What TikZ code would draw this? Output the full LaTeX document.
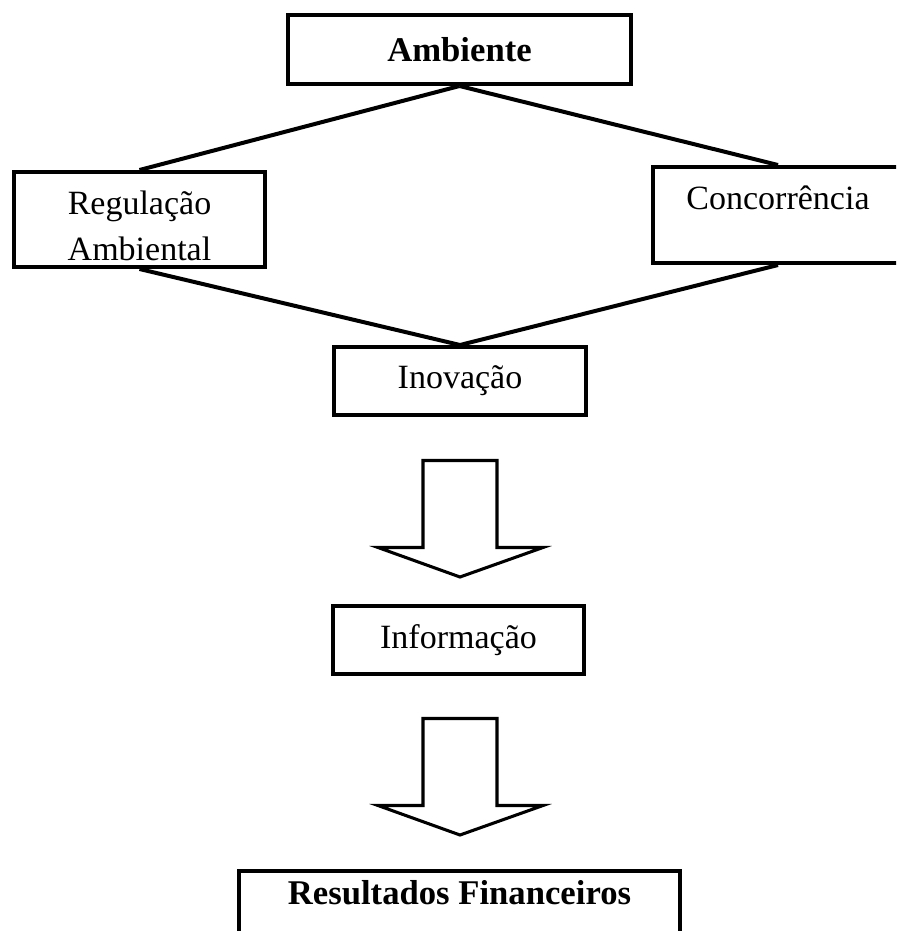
\documentclass[tikz,border=0pt]{standalone}
\usepackage{fontspec}
\setmainfont{Liberation Serif}

\tikzset{
  box/.style={draw, line width=3pt, inner sep=0pt, font=\fontsize{25.5}{34.5}\selectfont},
  bold/.style={font=\fontsize{26}{34.5}\selectfont\bfseries},
  link/.style={line width=3pt},
  bigarrow/.style={line width=2.3pt, line join=miter}
}

\begin{document}
\begin{tikzpicture}[x=0.75pt, y=-0.75pt]
            \clip (0,0) rectangle (896,931);
            \node[box, bold, minimum width=257.25pt, minimum height=51.75pt] (amb) at (459.5, 49.5) {Ambiente};
            \node[box, anchor=north, align=center, minimum width=188.25pt, text height=66pt, text depth=5.25pt] (reg) at (139.5, 170) {Regulação\\Ambiental};
            \node[box, anchor=north, minimum width=187.5pt, text height=31.5pt, text depth=40.5pt] (conc) at (778, 165) {Concorrência};
            \node[box, minimum width=189pt, minimum height=51pt] (inov) at (460, 381) {Inovação};
            \node[box, minimum width=188.25pt, minimum height=51pt] (info) at (458.5, 640) {Informação};
            \node[box, bold, anchor=north, minimum width=330.75pt, text height=24.75pt, text depth=60pt] (res) at (459.5, 869) {Resultados Financeiros};
            \draw[link] (amb.south) to (reg.north);
            \draw[link] (amb.south) to (conc.north);
            \draw[link] (reg.south) to (inov.north);
            \draw[link] (conc.south) to (inov.north);
            % hollow arrows
            \foreach \y in {460.5, 718.5} {
                \draw[bigarrow] (423,\y) -- (497,\y) -- (497,\y+87) -- (543,\y+87)
                    -- (460,\y+116.5) -- (378,\y+87) -- (423,\y+87) -- cycle;
            }
        \end{tikzpicture}
\end{document}
